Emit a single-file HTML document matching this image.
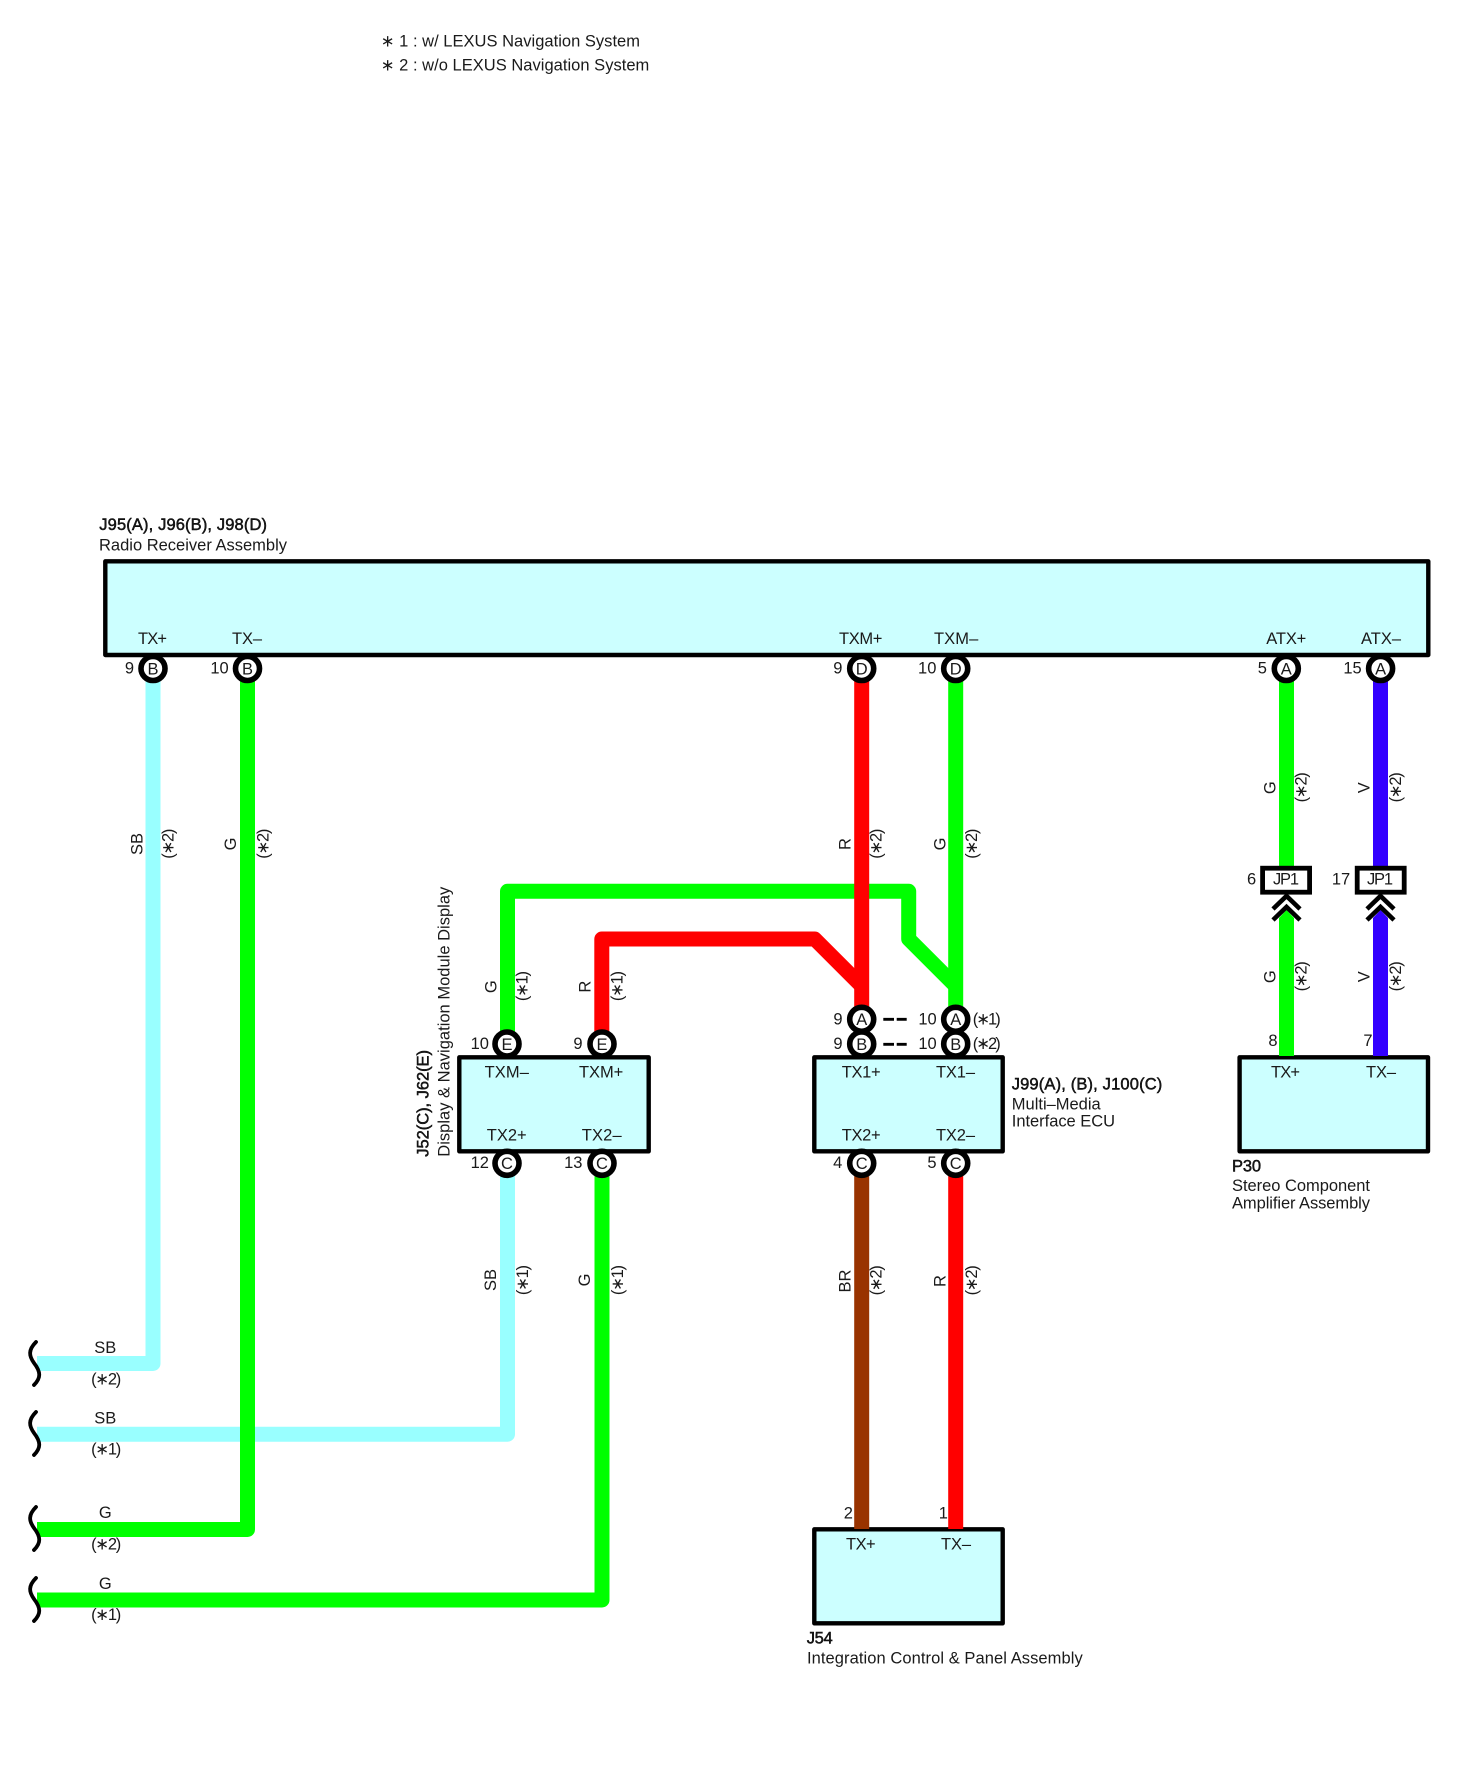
<!DOCTYPE html>
<html><head><meta charset="utf-8"><style>
html,body{margin:0;padding:0;background:#fff}
svg{display:block}
text{font-family:"Liberation Sans",Arial,sans-serif;font-size:16.5px;fill:#1a1a1a}
.m{text-anchor:middle}
.s{letter-spacing:-1.3px}
.b{stroke:#000;stroke-width:.45px}
.w{fill:none;stroke-width:15;stroke-linejoin:round}
.box{fill:#ccffff;stroke:#000;stroke-width:4.4;stroke-linejoin:round}
.pin{fill:#fff;stroke:#000;stroke-width:5.6}
.wave{fill:none;stroke:#000;stroke-width:3.8;stroke-linecap:round}
.chev{fill:none;stroke:#000;stroke-width:4.6}
.jp{fill:#fff;stroke:#000;stroke-width:4.8}
</style></head><body>
<svg xmlns="http://www.w3.org/2000/svg" width="1464" height="1776" viewBox="0 0 1464 1776">
<rect width="1464" height="1776" fill="#fff"/>

<!-- notes -->
<text x="380.7" y="46.6" textLength="259.3" lengthAdjust="spacing">∗ 1 : w/ LEXUS Navigation System</text>
<text x="380.7" y="70.4" textLength="268.6" lengthAdjust="spacing">∗ 2 : w/o LEXUS Navigation System</text>

<!-- boxes -->
<rect class="box" x="105.3" y="561.3" width="1323" height="93.7"/>
<rect class="box" x="459.3" y="1057.3" width="189.4" height="94"/>
<rect class="box" x="814.3" y="1057.3" width="188.4" height="94"/>
<rect class="box" x="1239.6" y="1057.3" width="188.4" height="94"/>
<rect class="box" x="814.3" y="1529.3" width="188.4" height="94"/>

<!-- wires -->
<polyline class="w" stroke="#99ffff" points="37,1363.5 153,1363.5 153,669"/>
<polyline class="w" stroke="#99ffff" points="37,1434.2 507.5,1434.2 507.5,1163"/>
<polyline class="w" stroke="#00ff00" points="37,1529.5 247.5,1529.5 247.5,669"/>
<polyline class="w" stroke="#00ff00" points="37,1600 602,1600 602,1163"/>
<polyline class="w" stroke="#00ff00" points="507.5,1044 507.5,891.3 908.7,891.3 908.7,939 955.7,986"/>
<line class="w" stroke="#00ff00" x1="955.7" y1="669" x2="955.7" y2="1019"/>
<polyline class="w" stroke="#ff0000" points="601.8,1044 601.8,939 814.7,939 861.7,986"/>
<line class="w" stroke="#ff0000" x1="861.7" y1="669" x2="861.7" y2="1019"/>
<line class="w" stroke="#993300" x1="861.7" y1="1163" x2="861.7" y2="1529"/>
<line class="w" stroke="#ff0000" x1="955.7" y1="1163" x2="955.7" y2="1529"/>
<line class="w" stroke="#00ff00" x1="1286.5" y1="669" x2="1286.5" y2="868"/>
<line class="w" stroke="#3300ff" x1="1380.5" y1="669" x2="1380.5" y2="868"/>
<polygon fill="#00ff00" points="1279,918 1286.5,910 1294,918 1294,1056 1279,1056"/>
<polygon fill="#3300ff" points="1373,918 1380.5,910 1388,918 1388,1056 1373,1056"/>

<!-- wave ends -->
<path class="wave" d="M36,1342 C28,1350 29,1356 34,1363 C41,1372 41,1378 34,1385"/>
<path class="wave" d="M36,1412 C28,1420 29,1426 34,1433 C41,1442 41,1448 34,1455"/>
<path class="wave" d="M36,1507 C28,1515 29,1521 34,1528 C41,1537 41,1543 34,1550"/>
<path class="wave" d="M36,1578 C28,1586 29,1592 34,1599 C41,1608 41,1614 34,1621"/>

<!-- pins -->
<g>
<circle class="pin" cx="153" cy="668.5" r="12"/><circle class="pin" cx="247.5" cy="668.5" r="12"/>
<circle class="pin" cx="861.7" cy="668.5" r="12"/><circle class="pin" cx="955.7" cy="668.5" r="12"/>
<circle class="pin" cx="1286.3" cy="668.5" r="12"/><circle class="pin" cx="1380.6" cy="668.5" r="12"/>
<circle class="pin" cx="507" cy="1044" r="12"/><circle class="pin" cx="602" cy="1044" r="12"/>
<circle class="pin" cx="507" cy="1163.3" r="12"/><circle class="pin" cx="602" cy="1163.3" r="12"/>
<circle class="pin" cx="861.7" cy="1019.3" r="12"/><circle class="pin" cx="955.7" cy="1019.3" r="12"/>
<circle class="pin" cx="861.7" cy="1044" r="12"/><circle class="pin" cx="955.7" cy="1044" r="12"/>
<circle class="pin" cx="861.7" cy="1163.3" r="12"/><circle class="pin" cx="955.7" cy="1163.3" r="12"/>
</g>
<g>
<text class="m" x="153" y="674.5">B</text><text class="m" x="247.5" y="674.5">B</text>
<text class="m" x="861.7" y="674.5">D</text><text class="m" x="955.7" y="674.5">D</text>
<text class="m" x="1286.3" y="674.5">A</text><text class="m" x="1380.6" y="674.5">A</text>
<text class="m" x="507" y="1050">E</text><text class="m" x="602" y="1050">E</text>
<text class="m" x="507" y="1169">C</text><text class="m" x="602" y="1169">C</text>
<text class="m" x="861.7" y="1025">A</text><text class="m" x="955.7" y="1025">A</text>
<text class="m" x="861.7" y="1050">B</text><text class="m" x="955.7" y="1050">B</text>
<text class="m" x="861.7" y="1169">C</text><text class="m" x="955.7" y="1169">C</text>
</g>

<!-- dashes -->
<path d="M883.3,1019.3H894M896.7,1019.3H906.7M883.3,1044.3H894M896.7,1044.3H906.7" stroke="#000" stroke-width="2.8" fill="none"/>

<!-- JP1 -->
<rect class="jp" x="1262.6" y="868.2" width="47" height="24"/>
<rect class="jp" x="1357.2" y="868.2" width="47" height="24"/>
<polyline class="chev" points="1273,909 1286.5,896 1300,909"/>
<polyline class="chev" points="1273,920 1286.5,907 1300,920"/>
<polyline class="chev" points="1367,909 1380.5,896 1394,909"/>
<polyline class="chev" points="1367,920 1380.5,907 1394,920"/>
<text x="1273" y="884.5" textLength="26" lengthAdjust="spacing">JP1</text>
<text x="1367" y="884.5" textLength="26" lengthAdjust="spacing">JP1</text>

<!-- main labels -->
<text class="b" x="99.3" y="530" textLength="167.7" lengthAdjust="spacing">J95(A), J96(B), J98(D)</text>
<text x="99" y="550.5" textLength="188" lengthAdjust="spacing">Radio Receiver Assembly</text>
<text x="138" y="644" textLength="29" lengthAdjust="spacing">TX+</text>
<text x="232" y="644" textLength="30" lengthAdjust="spacing">TX–</text>
<text x="839" y="644" textLength="43.4" lengthAdjust="spacing">TXM+</text>
<text x="934" y="644" textLength="44.3" lengthAdjust="spacing">TXM–</text>
<text x="1266.3" y="644" textLength="40" lengthAdjust="spacing">ATX+</text>
<text x="1361" y="644" textLength="40" lengthAdjust="spacing">ATX–</text>
<text class="m" x="129.5" y="673.3">9</text>
<text class="m" x="219.5" y="673.3">10</text>
<text class="m" x="837.8" y="673.3">9</text>
<text class="m" x="927.2" y="673.3">10</text>
<text class="m" x="1262.3" y="673.3">5</text>
<text class="m" x="1352.5" y="673.3">15</text>

<!-- display box -->
<text class="m" x="479.8" y="1049">10</text>
<text class="m" x="578" y="1049">9</text>
<text class="m" x="479.8" y="1168">12</text>
<text class="m" x="573.3" y="1168">13</text>
<text x="484.6" y="1077.3" textLength="44.3" lengthAdjust="spacing">TXM–</text>
<text x="579" y="1077.3" textLength="44.3" lengthAdjust="spacing">TXM+</text>
<text x="486.7" y="1140.5" textLength="40" lengthAdjust="spacing">TX2+</text>
<text x="581.7" y="1140.5" textLength="40" lengthAdjust="spacing">TX2–</text>
<text x="449.5" y="1156.7" transform="rotate(-90 449.5 1156.7)" textLength="270" lengthAdjust="spacing">Display &amp; Navigation Module Display</text>
<text class="b" x="428.5" y="1156.7" transform="rotate(-90 428.5 1156.7)" textLength="106.7" lengthAdjust="spacing">J52(C), J62(E)</text>

<!-- J99 box -->
<text class="m" x="838" y="1024.5">9</text>
<text class="m" x="838" y="1049">9</text>
<text class="m" x="927.5" y="1024.5">10</text>
<text class="m" x="927.5" y="1049">10</text>
<text x="972.7" y="1024.5" textLength="28" lengthAdjust="spacing">(∗1)</text>
<text x="972.7" y="1049" textLength="28" lengthAdjust="spacing">(∗2)</text>
<text x="841.7" y="1077.3" textLength="39" lengthAdjust="spacing">TX1+</text>
<text x="936" y="1077.3" textLength="39" lengthAdjust="spacing">TX1–</text>
<text x="841.7" y="1140.5" textLength="39" lengthAdjust="spacing">TX2+</text>
<text x="936" y="1140.5" textLength="39" lengthAdjust="spacing">TX2–</text>
<text class="m" x="837.7" y="1168">4</text>
<text class="m" x="932" y="1168">5</text>
<text class="b" x="1011.7" y="1089.3" textLength="150.6" lengthAdjust="spacing">J99(A), (B), J100(C)</text>
<text x="1011.8" y="1109.5" textLength="88.9" lengthAdjust="spacing">Multi–Media</text>
<text x="1011.8" y="1126.5" textLength="103.2" lengthAdjust="spacing">Interface ECU</text>

<!-- P30 -->
<text class="m" x="1251.6" y="884.3">6</text>
<text class="m" x="1341" y="884.3">17</text>
<text class="m" x="1273" y="1046">8</text>
<text class="m" x="1368" y="1046">7</text>
<text x="1271" y="1077.3" textLength="29" lengthAdjust="spacing">TX+</text>
<text x="1366" y="1077.3" textLength="30" lengthAdjust="spacing">TX–</text>
<text class="b" x="1232" y="1171.3" textLength="29" lengthAdjust="spacing">P30</text>
<text x="1232" y="1191" textLength="138" lengthAdjust="spacing">Stereo Component</text>
<text x="1232" y="1208.6" textLength="138" lengthAdjust="spacing">Amplifier Assembly</text>

<!-- J54 -->
<text class="m" x="848.3" y="1518.3">2</text>
<text class="m" x="943.3" y="1518.3">1</text>
<text x="846" y="1549.3" textLength="29.7" lengthAdjust="spacing">TX+</text>
<text x="941" y="1549.3" textLength="30" lengthAdjust="spacing">TX–</text>
<text class="b" x="806.7" y="1643.3" textLength="26" lengthAdjust="spacing">J54</text>
<text x="807" y="1663.3" textLength="275.7" lengthAdjust="spacing">Integration Control &amp; Panel Assembly</text>

<!-- left labels -->
<text class="m" x="105.3" y="1353">SB</text>
<text class="m s" x="105.5" y="1384.5">(∗2)</text>
<text class="m" x="105.3" y="1423.5">SB</text>
<text class="m s" x="105.5" y="1454.7">(∗1)</text>
<text class="m" x="105.3" y="1518">G</text>
<text class="m s" x="105.5" y="1549.5">(∗2)</text>
<text class="m" x="105.3" y="1589">G</text>
<text class="m s" x="105.5" y="1620.2">(∗1)</text>

<!-- rotated wire labels -->
<text class="m" transform="translate(142.3 844) rotate(-90)">SB</text>
<text class="m s" transform="translate(173.5 844.3) rotate(-90)">(∗2)</text>
<text class="m" transform="translate(236 844) rotate(-90)">G</text>
<text class="m s" transform="translate(268.5 844.3) rotate(-90)">(∗2)</text>
<text class="m" transform="translate(850.7 844) rotate(-90)">R</text>
<text class="m s" transform="translate(881.5 844.3) rotate(-90)">(∗2)</text>
<text class="m" transform="translate(945.5 844) rotate(-90)">G</text>
<text class="m s" transform="translate(977 844.3) rotate(-90)">(∗2)</text>
<text class="m" transform="translate(1275.5 787.7) rotate(-90)">G</text>
<text class="m s" transform="translate(1306.5 788) rotate(-90)">(∗2)</text>
<text class="m" transform="translate(1369.5 787.7) rotate(-90)">V</text>
<text class="m s" transform="translate(1401 788) rotate(-90)">(∗2)</text>
<text class="m" transform="translate(1275.5 976.7) rotate(-90)">G</text>
<text class="m s" transform="translate(1306.5 977) rotate(-90)">(∗2)</text>
<text class="m" transform="translate(1369.5 976.7) rotate(-90)">V</text>
<text class="m s" transform="translate(1401 977) rotate(-90)">(∗2)</text>
<text class="m" transform="translate(496.5 986.7) rotate(-90)">G</text>
<text class="m s" transform="translate(527.5 986.7) rotate(-90)">(∗1)</text>
<text class="m" transform="translate(590.5 986.7) rotate(-90)">R</text>
<text class="m s" transform="translate(622.5 986.7) rotate(-90)">(∗1)</text>
<text class="m" transform="translate(496 1280) rotate(-90)">SB</text>
<text class="m s" transform="translate(528 1280.7) rotate(-90)">(∗1)</text>
<text class="m" transform="translate(590 1280) rotate(-90)">G</text>
<text class="m s" transform="translate(623 1280.7) rotate(-90)">(∗1)</text>
<text class="m" transform="translate(850.7 1281) rotate(-90)">BR</text>
<text class="m s" transform="translate(881.5 1281) rotate(-90)">(∗2)</text>
<text class="m" transform="translate(945.5 1281) rotate(-90)">R</text>
<text class="m s" transform="translate(977 1281) rotate(-90)">(∗2)</text>
</svg>
</body></html>
